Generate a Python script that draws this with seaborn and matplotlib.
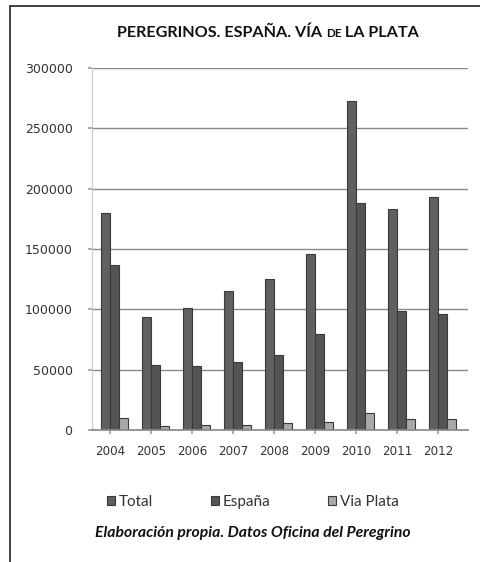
import numpy as np
import pandas as pd
import matplotlib
matplotlib.use("Agg")
import matplotlib.pyplot as plt
from matplotlib.lines import Line2D
import seaborn as sns

years = ["2004", "2005", "2006", "2007", "2008", "2009", "2010", "2011", "2012"]
total = [180000, 94000, 101000, 115000, 125500, 146000, 273000, 183000, 193000]
espana = [137000, 53500, 53000, 56000, 62000, 79500, 188500, 98500, 96000]
via_plata = [10000, 3500, 4000, 4500, 5500, 7000, 14500, 9000, 9000]
series_names = ["Total", "España", "Via Plata"]
yticks = [0, 50000, 100000, 150000, 200000, 250000, 300000]

df = pd.DataFrame({
    "year": years * 3,
    "serie": [series_names[0]] * 9 + [series_names[1]] * 9 + [series_names[2]] * 9,
    "value": total + espana + via_plata,
})

sns.set_theme(style="white")
plt.rcParams["font.family"] = ["DejaVu Sans"]

W, H = 481, 562
fig = plt.figure(figsize=(W / 100, H / 100), dpi=100)
fig.patch.set_facecolor("white")

# axes in pixel coordinates
ax_l, ax_r, ax_t, ax_b = 92, 468, 68, 430
ax = fig.add_axes([ax_l / W, 1 - ax_b / H, (ax_r - ax_l) / W, (ax_b - ax_t) / H])

palette = {"Total": "#606060", "España": "#545454", "Via Plata": "#a9a9a9"}
sns.barplot(data=df, x="year", y="value", hue="serie", hue_order=series_names,
            palette=palette, width=0.68, dodge=True, ax=ax,
            edgecolor="#3a3a3a", linewidth=0.8, legend=True, saturation=1)

# x range: category slots 41 px wide, bars slightly right of tick centres
shift = 0.11
slot = 41.0
x0 = 110 + shift * slot
ax.set_xlim((ax_l - x0) / slot, (ax_r - x0) / slot)
ax.set_ylim(0, 300000)
ax.set_xticks(np.arange(len(years)) - shift, labels=years)
ax.set_yticks(yticks, labels=[str(v) for v in yticks])
ax.set_xlabel("")
ax.set_ylabel("")
ax.yaxis.grid(True, color="#8a8a8a", linewidth=1.0)
ax.set_axisbelow(True)
for s in ["top", "right"]:
    ax.spines[s].set_visible(False)
ax.spines["left"].set_color("#c8c8c8")
ax.spines["bottom"].set_color("#8a8a8a")
ax.spines["left"].set_linewidth(0.8)
ax.tick_params(axis="y", left=True, length=3, color="#a0a0a0", pad=11,
               labelsize=9, labelcolor="#333333")
ax.tick_params(axis="x", bottom=True, length=3, color="#a0a0a0", pad=8,
               labelsize=8.6, labelcolor="#333333")

# legend
leg = ax.get_legend()
handles, labels = ax.get_legend_handles_labels()
leg.remove()
fig.legend(handles, labels, loc="center", bbox_to_anchor=(253 / W, 1 - 502 / H),
           ncol=3, frameon=False, handlelength=0.5, handleheight=0.5,
           handletextpad=0.25, columnspacing=3.8,
           prop={"family": "Lato", "size": 11})
for t in fig.legends[0].get_texts():
    t.set_color("#333333")

# title with small-caps "DE"
fig.canvas.draw()
renderer = fig.canvas.get_renderer()
parts = [("PEREGRINOS. ESPAÑA. VÍA ", 11.6), ("DE", 8.4), (" LA PLATA", 11.6)]
texts = []
for s, sz in parts:
    t = fig.text(0, 0, s, fontsize=sz, fontweight="bold", family="Lato",
                 color="#111111", va="baseline", ha="left")
    texts.append(t)
widths = [t.get_window_extent(renderer).width for t in texts]
tot_w = sum(widths)
x = 268 - tot_w / 2
base_y = 1 - 37 / H
for t, w in zip(texts, widths):
    t.set_position((x / W, base_y))
    x += w

# caption
fig.text(253 / W, 1 - 533 / H, "Elaboración propia. Datos Oficina del Peregrino",
         ha="center", va="center", fontsize=11.3, fontweight="bold", style="italic",
         family="Lato", color="#111111")

# frame lines (top and left)
fig.add_artist(Line2D([10 / W, 1], [1 - 6 / H, 1 - 6 / H], transform=fig.transFigure,
                      color="#333333", linewidth=1.3))
fig.add_artist(Line2D([10 / W, 10 / W], [1 - 6 / H, 0], transform=fig.transFigure,
                      color="#333333", linewidth=1.3))

fig.savefig("out.png", dpi=100, facecolor="white")
